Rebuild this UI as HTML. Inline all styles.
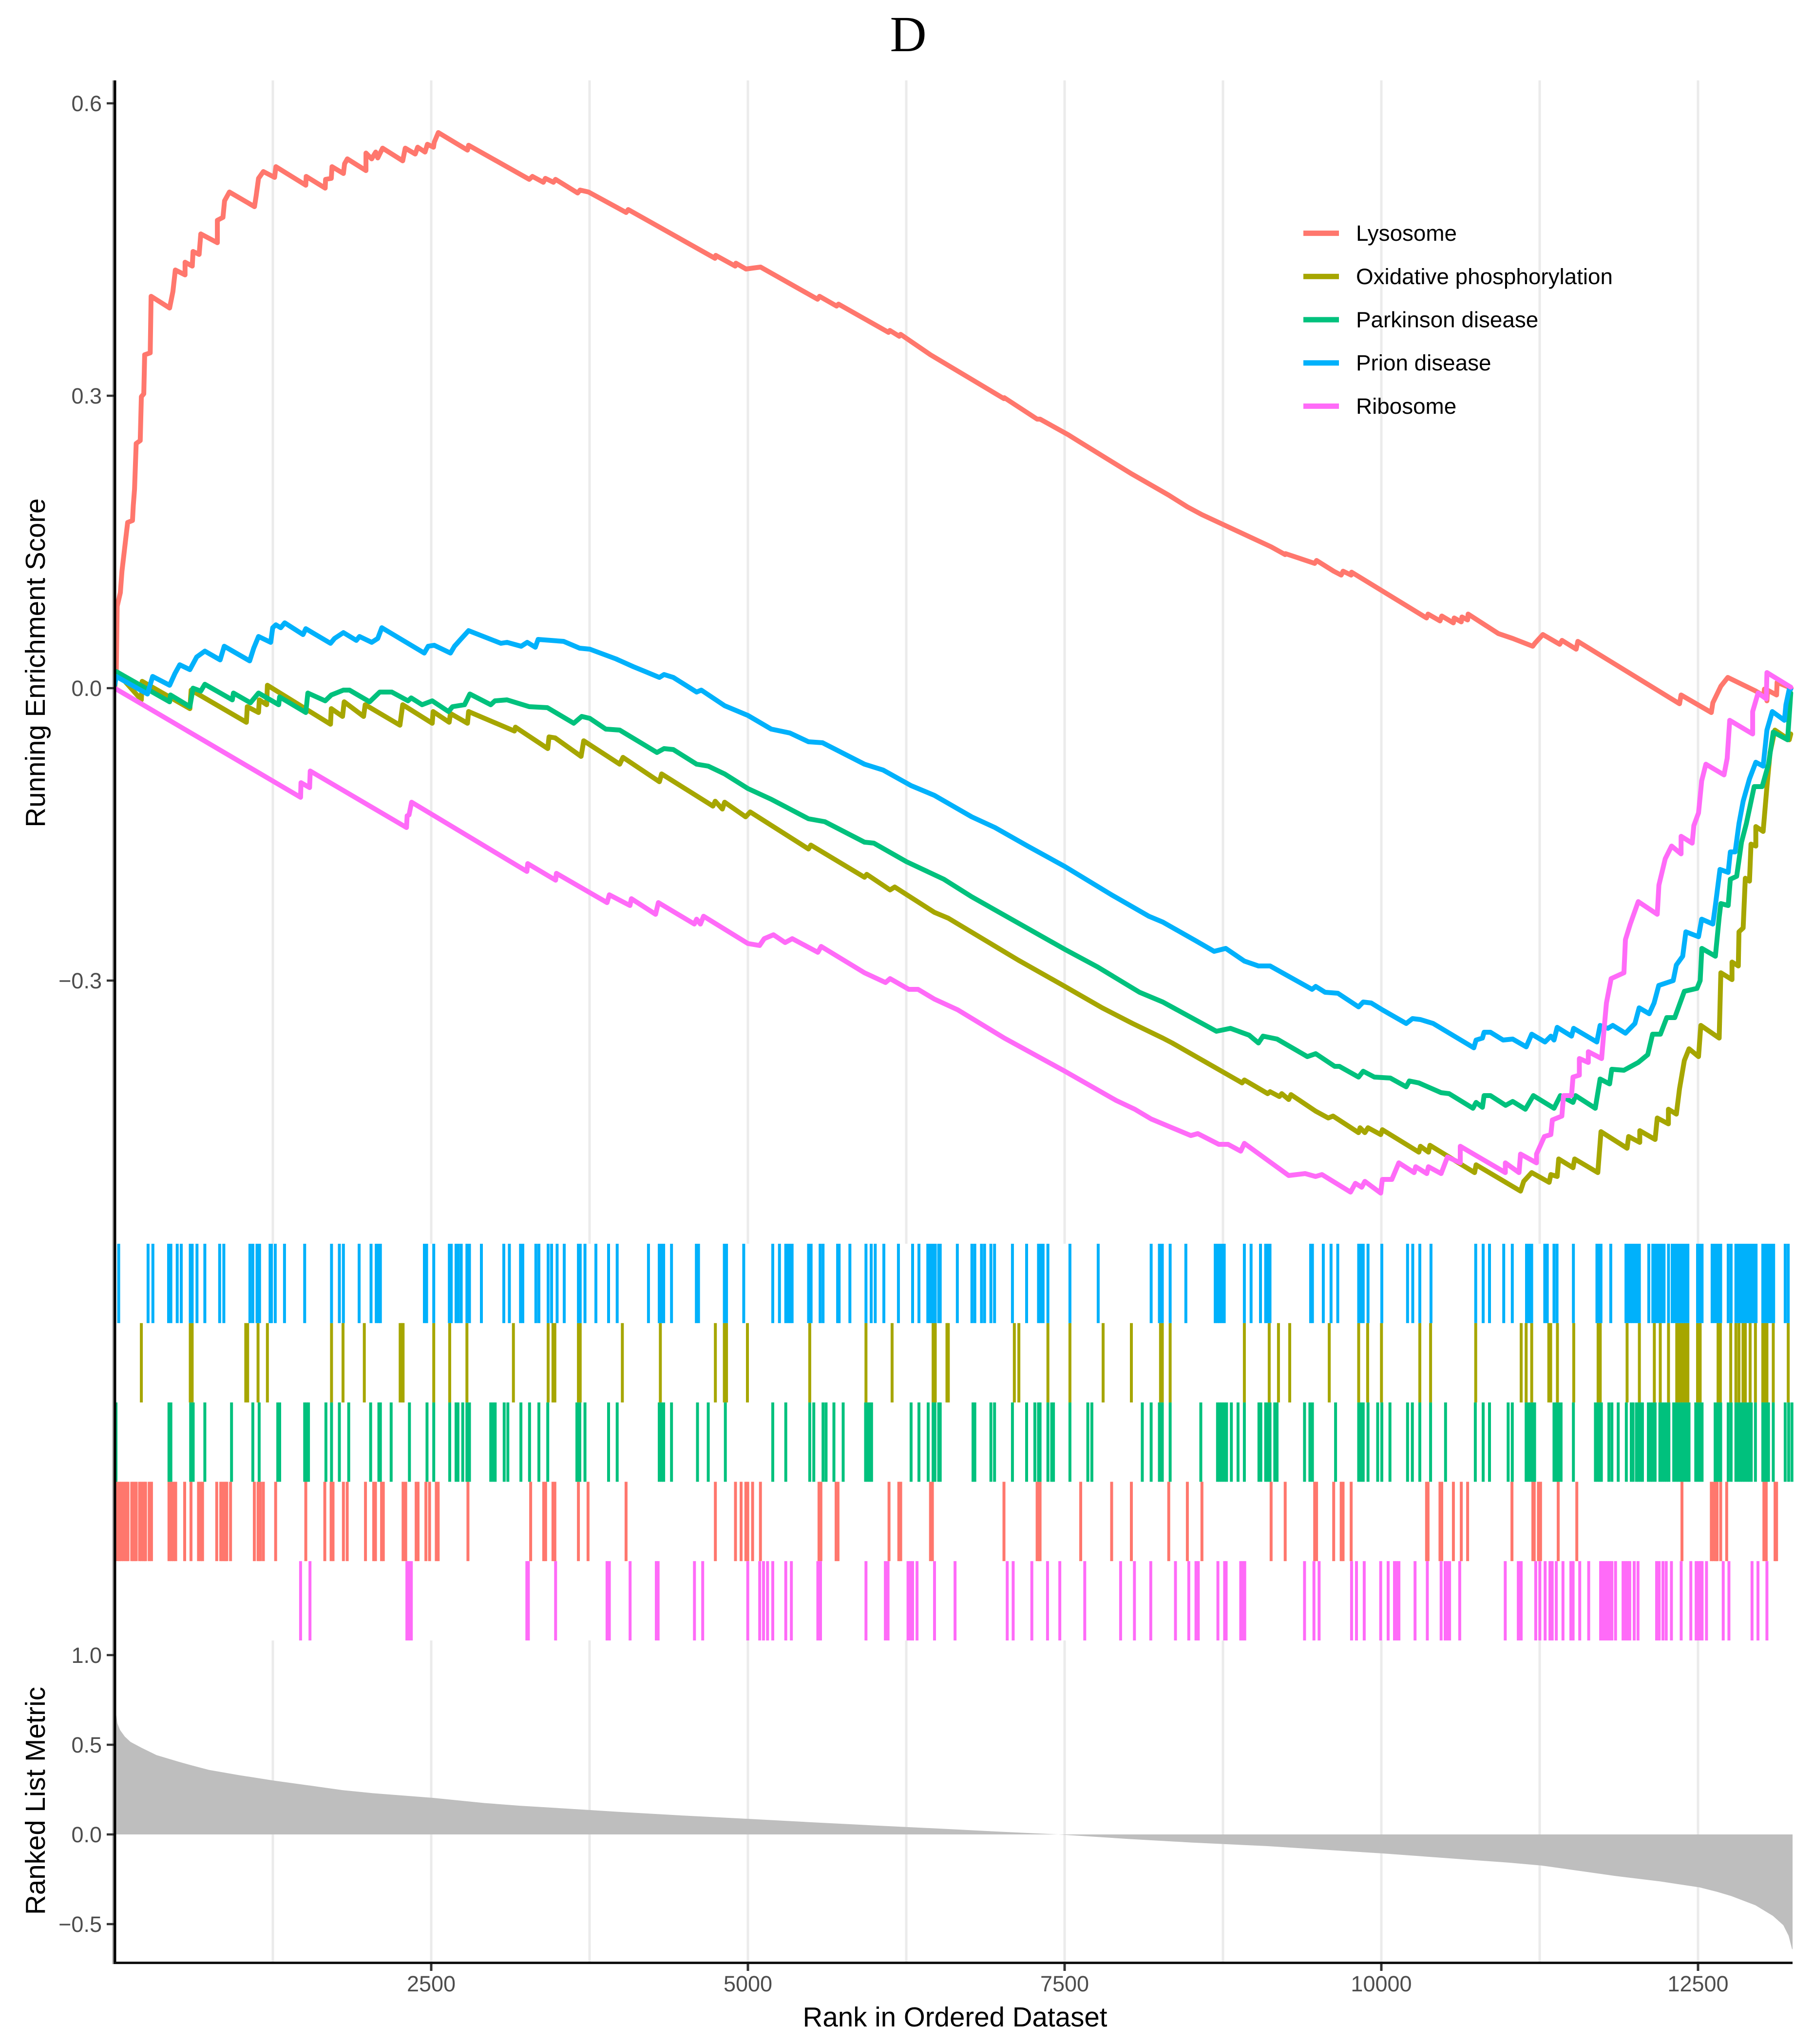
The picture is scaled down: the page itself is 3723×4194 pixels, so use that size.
<!DOCTYPE html>
<html lang="en">
<head>
<meta charset="utf-8">
<title>GSEA running enrichment score plot</title>
<style>
html,body{margin:0;padding:0;background:#fff;}
#chart{display:block;width:3723px;height:4194px;}
text{font-family:"Liberation Sans",sans-serif;}
</style>
</head>
<body>
<svg id="chart" xmlns="http://www.w3.org/2000/svg" width="3723" height="4194" viewBox="0 0 3723 4194">
<rect x="0" y="0" width="3723" height="4194" fill="#ffffff"/>
<g id="grid"></g>
<g id="metric"></g>
<g id="rug"></g>
<g id="curves"></g>
<g id="axes"></g>
<g id="legend"></g>
<text x="1864" y="105" text-anchor="middle" font-size="104" fill="#000" style="font-family:'Liberation Serif',serif">D</text>
<text transform="translate(92 1360) rotate(-90)" text-anchor="middle" font-size="56.5" fill="#000">Running Enrichment Score</text>
<text transform="translate(92 3695) rotate(-90)" text-anchor="middle" font-size="56.5" fill="#000">Ranked List Metric</text>
<text x="1960" y="4158" text-anchor="middle" font-size="56.5" fill="#000">Rank in Ordered Dataset</text>
</svg>
<script>
const xTicks = [2500, 5000, 7500, 10000, 12500];
const xGridBreaks = [1250, 2500, 3750, 5000, 6250, 7500, 8750, 10000, 11250, 12500];
const esTicks = [0.6, 0.3, 0, -0.3];
const esTickLabels = ["0.6", "0.3", "0.0", "\u22120.3"];
const metricTicks = [1, 0.5, 0, -0.5];
const metricTickLabels = ["1.0", "0.5", "0.0", "\u22120.5"];
const seriesNames = ["Lysosome", "Oxidative phosphorylation", "Parkinson disease", "Prion disease", "Ribosome"];
const seriesKeys = ["lysosome", "oxidative-phosphorylation", "parkinson-disease", "prion-disease", "ribosome"];
const seriesColors = ["#ff776d", "#a6a600", "#00c17d", "#00b1fb", "#ff6bf8"];
const rugRows = [3, 1, 2, 0, 4];

const lysosomeRanks = [1,14,21,46,59,91,104,142,148,158,171,203,212,231,238,282,289,435,461,480,557,557,614,620,668,681,812,812,856,869,907,1105,1118,1137,1175,1264,1274,1510,1513,1663,1666,1711,1717,1807,1816,1838,1985,1985,2030,2062,2078,2116,2275,2295,2374,2393,2451,2470,2518,2524,2556,2786,2795,3274,3299,3385,3401,3465,3481,3656,3675,3742,4039,4055,4740,4746,4900,4905,4985,5040,5100,5550,5565,5700,5715,6110,6120,6195,6205,6441,7021,7024,7283,7306,7528,7627,8027,8322,8469,8584,9130,9241,9244,9474,9489,9624,9683,9698,9762,9765,10357,10369,10463,10477,10569,10575,10631,10636,10681,10685,10924,11037,11195,11212,11275,11408,11426,11538,11551,12354,12366,12605,12617,12680,12735,12956,13019,13024,13044,13048,13120,13124,13235];
const lysosomeScores = [0,0.017,0.084,0.098,0.120,0.156,0.170,0.172,0.187,0.204,0.251,0.254,0.299,0.302,0.342,0.344,0.402,0.390,0.407,0.429,0.424,0.437,0.433,0.448,0.445,0.466,0.457,0.480,0.483,0.500,0.509,0.494,0.505,0.523,0.530,0.524,0.535,0.516,0.525,0.513,0.522,0.523,0.535,0.528,0.538,0.543,0.531,0.549,0.543,0.550,0.544,0.554,0.541,0.554,0.548,0.555,0.550,0.558,0.555,0.560,0.570,0.552,0.557,0.522,0.525,0.519,0.523,0.519,0.522,0.508,0.511,0.509,0.488,0.491,0.441,0.444,0.433,0.436,0.430,0.431,0.432,0.399,0.402,0.392,0.394,0.365,0.367,0.361,0.363,0.342,0.297,0.298,0.276,0.276,0.260,0.252,0.220,0.198,0.186,0.178,0.145,0.137,0.138,0.128,0.131,0.120,0.116,0.120,0.116,0.119,0.072,0.076,0.069,0.074,0.067,0.072,0.068,0.073,0.070,0.076,0.056,0.051,0.043,0.046,0.055,0.045,0.049,0.040,0.048,-0.016,-0.007,-0.025,-0.015,0.002,0.011,-0.003,-0.008,-0.001,-0.013,-0.002,-0.007,0.006,0];

const oxphosRanks = [1,14,212,218,595,605,1041,1048,1137,1143,1201,1207,1705,1711,1800,1813,1966,1979,2253,2275,2508,2515,2642,2652,2786,2795,3157,3165,3420,3430,3478,3683,3704,3988,4014,4301,4319,4724,4742,4798,4816,4982,5018,5478,5497,5920,5938,6122,6159,6472,6582,7134,7502,7797,8036,8275,8349,8901,8919,9103,9122,9195,9214,9269,9287,9482,9581,9619,9820,9832,9870,9895,9995,10008,10296,10309,10372,10384,10736,10748,11099,11124,11187,11325,11338,11388,11400,11513,11526,11709,11734,11940,11952,12040,12040,12161,12178,12266,12266,12329,12354,12392,12429,12504,12522,12667,12680,12768,12768,12818,12823,12856,12873,12906,12918,12956,12956,13014,13044,13069,13107,13220,13232];
const oxphosScores = [0,0.017,-0.012,0.007,-0.021,-0.002,-0.035,-0.019,-0.025,-0.012,-0.017,0.003,-0.037,-0.021,-0.029,-0.014,-0.029,-0.017,-0.038,-0.017,-0.036,-0.024,-0.035,-0.026,-0.036,-0.024,-0.044,-0.040,-0.062,-0.050,-0.051,-0.070,-0.054,-0.078,-0.071,-0.096,-0.088,-0.121,-0.116,-0.124,-0.117,-0.132,-0.127,-0.165,-0.161,-0.194,-0.191,-0.207,-0.204,-0.230,-0.236,-0.279,-0.306,-0.328,-0.344,-0.359,-0.364,-0.405,-0.402,-0.416,-0.414,-0.419,-0.416,-0.422,-0.417,-0.434,-0.441,-0.439,-0.456,-0.451,-0.456,-0.451,-0.458,-0.453,-0.476,-0.470,-0.476,-0.469,-0.497,-0.489,-0.516,-0.506,-0.497,-0.507,-0.499,-0.501,-0.483,-0.492,-0.483,-0.497,-0.455,-0.472,-0.460,-0.466,-0.454,-0.463,-0.441,-0.447,-0.432,-0.437,-0.411,-0.382,-0.370,-0.378,-0.346,-0.359,-0.292,-0.299,-0.281,-0.285,-0.250,-0.246,-0.195,-0.198,-0.160,-0.162,-0.142,-0.147,-0.101,-0.066,-0.043,-0.053,-0.047];

const parkinsonRanks = [1,14,435,442,595,620,681,713,930,939,1073,1137,1296,1303,1510,1526,1663,1711,1807,1855,2014,2094,2189,2317,2342,2428,2508,2636,2668,2763,2805,2970,3003,3098,3274,3417,3625,3688,3752,3878,3988,4282,4338,4411,4595,4687,4816,5000,5184,5331,5478,5607,5920,5994,6251,6546,6766,7502,7760,8091,8275,8698,8809,8956,9030,9066,9177,9416,9482,9632,9669,9820,9857,9945,10071,10196,10221,10296,10472,10535,10723,10748,10798,10811,10861,10981,11037,11137,11200,11363,11413,11513,11533,11689,11727,11802,11819,11915,12028,12103,12141,12203,12253,12316,12392,12492,12517,12530,12637,12667,12680,12738,12755,12805,12843,12881,12943,13006,13056,13094,13207,13232];
const parkinsonScores = [0.005,0.017,-0.014,-0.007,-0.019,0,-0.003,0.004,-0.012,-0.005,-0.015,-0.005,-0.017,-0.009,-0.025,-0.005,-0.013,-0.007,-0.002,-0.002,-0.014,-0.004,-0.004,-0.013,-0.010,-0.017,-0.013,-0.024,-0.019,-0.017,-0.006,-0.017,-0.013,-0.012,-0.019,-0.020,-0.036,-0.029,-0.031,-0.042,-0.043,-0.066,-0.062,-0.063,-0.078,-0.080,-0.088,-0.103,-0.114,-0.124,-0.134,-0.137,-0.158,-0.159,-0.178,-0.196,-0.214,-0.268,-0.286,-0.312,-0.322,-0.352,-0.349,-0.356,-0.364,-0.357,-0.360,-0.378,-0.375,-0.388,-0.388,-0.399,-0.393,-0.399,-0.400,-0.409,-0.403,-0.405,-0.415,-0.416,-0.431,-0.425,-0.430,-0.418,-0.418,-0.428,-0.424,-0.432,-0.418,-0.431,-0.418,-0.425,-0.418,-0.431,-0.401,-0.406,-0.391,-0.392,-0.384,-0.376,-0.355,-0.355,-0.338,-0.338,-0.311,-0.308,-0.300,-0.267,-0.275,-0.235,-0.221,-0.223,-0.196,-0.193,-0.158,-0.139,-0.101,-0.101,-0.078,-0.045,-0.053,-0.005];

const prionRanks = [1,14,260,301,435,477,515,595,649,713,834,866,1067,1099,1137,1233,1249,1274,1312,1344,1488,1510,1705,1737,1807,1909,1934,2030,2078,2110,2445,2476,2524,2652,2684,2732,2795,3050,3098,3210,3258,3322,3344,3545,3672,3752,3959,4096,4190,4301,4338,4411,4595,4632,4816,4963,5000,5184,5331,5478,5589,5920,6067,6288,6472,6766,6950,7208,7502,7870,8165,8275,8533,8680,8772,8919,9030,9122,9453,9482,9556,9657,9820,9857,9920,10008,10196,10246,10309,10409,10730,10748,10798,10811,10861,10961,11037,11144,11187,11292,11338,11363,11388,11501,11518,11701,11727,11789,11827,11927,12002,12035,12115,12153,12190,12304,12329,12379,12404,12504,12529,12617,12637,12673,12738,12755,12793,12823,12856,12906,12956,13014,13044,13086,13182,13194,13220,13232];
const prionScores = [0.003,0.012,-0.006,0.012,0.003,0.015,0.024,0.019,0.032,0.038,0.029,0.043,0.028,0.041,0.053,0.047,0.062,0.065,0.062,0.067,0.055,0.061,0.046,0.051,0.057,0.049,0.053,0.047,0.051,0.062,0.036,0.043,0.044,0.036,0.043,0.050,0.059,0.046,0.047,0.043,0.047,0.042,0.050,0.048,0.041,0.040,0.030,0.022,0.017,0.011,0.014,0.011,-0.004,-0.002,-0.018,-0.026,-0.028,-0.042,-0.046,-0.055,-0.056,-0.078,-0.084,-0.100,-0.110,-0.132,-0.143,-0.162,-0.183,-0.212,-0.234,-0.240,-0.259,-0.270,-0.267,-0.280,-0.285,-0.285,-0.309,-0.306,-0.312,-0.313,-0.327,-0.322,-0.323,-0.330,-0.344,-0.339,-0.340,-0.344,-0.369,-0.361,-0.359,-0.353,-0.353,-0.361,-0.360,-0.368,-0.355,-0.363,-0.357,-0.361,-0.348,-0.357,-0.349,-0.363,-0.346,-0.349,-0.346,-0.354,-0.344,-0.328,-0.334,-0.323,-0.305,-0.300,-0.284,-0.275,-0.250,-0.255,-0.237,-0.242,-0.223,-0.186,-0.189,-0.168,-0.168,-0.139,-0.116,-0.093,-0.076,-0.080,-0.043,-0.024,-0.033,-0.017,-0.001,-0.001];

const ribosomeRanks = [1,1469,1472,1540,1545,2305,2310,2325,2345,3255,3262,3482,3488,3888,3906,4069,4080,4271,4293,4577,4595,4625,4650,5000,5092,5129,5202,5294,5350,5552,5578,5920,6086,6122,6270,6343,6472,6656,7024,7502,7907,8054,8183,8367,8496,8551,8717,8790,8890,8919,9269,9398,9481,9531,9757,9795,9845,9870,9995,10008,10083,10138,10259,10271,10359,10372,10472,10522,10623,10623,10979,10979,11087,11099,11225,11225,11287,11338,11350,11425,11438,11501,11513,11563,11563,11634,11634,11739,11759,11777,11814,11915,11927,11965,12028,12178,12191,12241,12291,12366,12366,12454,12467,12504,12529,12562,12705,12730,12750,12931,12931,12974,13039,13044,13232];
const ribosomeScores = [0,-0.112,-0.097,-0.102,-0.085,-0.143,-0.131,-0.130,-0.117,-0.188,-0.180,-0.197,-0.190,-0.220,-0.212,-0.223,-0.216,-0.232,-0.220,-0.242,-0.237,-0.242,-0.234,-0.262,-0.264,-0.257,-0.253,-0.261,-0.257,-0.271,-0.265,-0.292,-0.302,-0.298,-0.309,-0.309,-0.319,-0.330,-0.359,-0.393,-0.423,-0.432,-0.442,-0.452,-0.459,-0.457,-0.468,-0.468,-0.475,-0.467,-0.500,-0.498,-0.501,-0.499,-0.517,-0.508,-0.512,-0.506,-0.518,-0.504,-0.504,-0.487,-0.497,-0.491,-0.498,-0.491,-0.498,-0.481,-0.487,-0.470,-0.497,-0.487,-0.497,-0.478,-0.487,-0.478,-0.460,-0.458,-0.443,-0.439,-0.418,-0.418,-0.399,-0.397,-0.380,-0.384,-0.373,-0.380,-0.349,-0.323,-0.298,-0.292,-0.258,-0.242,-0.219,-0.232,-0.202,-0.175,-0.162,-0.170,-0.152,-0.159,-0.141,-0.128,-0.095,-0.078,-0.089,-0.072,-0.033,-0.047,-0.024,-0.005,-0.011,0.016,0.001];

const prionHits = [33,265,303,427,445,495,527,598,613,651,713,830,863,1069,1092,1125,1145,1228,1239,1269,1342,1501,1713,1775,1807,1931,2025,2066,2084,2099,2446,2464,2520,2643,2658,2696,2714,2737,2782,2802,2896,3073,3117,3205,3223,3326,3350,3423,3450,3494,3550,3662,3676,3714,3800,3900,3968,4215,4300,4318,4335,4397,4593,4610,4814,4831,4967,5196,5249,5299,5317,5334,5349,5479,5499,5570,5593,5708,5720,5805,5932,5973,6005,6073,6188,6300,6350,6420,6435,6450,6465,6479,6506,6518,6653,6768,6791,6844,6868,6918,6947,7088,7200,7294,7312,7330,7368,7542,7765,8183,8248,8271,8333,8457,8689,8707,8724,8742,8760,8919,8972,9046,9087,9103,9121,9442,9456,9542,9603,9656,9821,9839,9857,9895,10004,10207,10248,10304,10392,10745,10804,10854,10966,11034,11146,11166,11187,11290,11310,11363,11387,11516,11702,11719,11734,11811,11931,11949,11967,11984,12002,12020,12037,12111,12143,12161,12178,12196,12214,12232,12267,12296,12314,12332,12349,12367,12385,12402,12420,12496,12514,12532,12611,12629,12647,12664,12679,12738,12761,12799,12817,12835,12853,12870,12888,12905,12923,12941,12958,13011,13029,13047,13064,13082,13097,13188,13212];
const oxphosHits = [212,598,613,1036,1051,1133,1207,1713,1804,1972,2255,2270,2278,2520,2646,2782,3149,3423,3461,3476,3662,3676,4009,4309,4743,4814,4831,4996,5488,5932,6138,6462,6479,6571,6582,7103,7139,7368,7542,7804,8027,8257,8271,8333,8919,9115,9188,9277,9589,9821,9892,10001,10304,10389,10745,11104,11143,11187,11322,11337,11390,11519,11711,11728,11940,12037,12155,12202,12267,12332,12349,12367,12385,12402,12420,12496,12517,12658,12676,12758,12799,12823,12855,12873,12911,12953,13011,13029,13044,13094,13212];
const parkinsonHits = [12,430,445,601,621,713,924,1092,1142,1289,1304,1501,1516,1531,1669,1713,1775,1849,2022,2087,2099,2184,2328,2467,2520,2646,2696,2711,2749,2782,2802,2970,2988,3005,3076,3105,3208,3276,3350,3420,3650,3673,3714,3900,3968,4300,4318,4335,4397,4602,4687,4822,5196,5299,5488,5520,5593,5617,5679,5752,5929,5947,5964,5976,6288,6350,6423,6462,6476,6506,6518,6777,6791,6918,6947,7088,7200,7265,7294,7306,7368,7398,7412,7542,7683,7715,8113,8183,8248,8271,8333,8575,8707,8724,8742,8760,8778,8816,8869,8919,9034,9049,9087,9103,9121,9159,9177,9394,9436,9456,9639,9821,9839,9857,9895,9971,10004,10068,10207,10245,10304,10389,10507,10742,10804,10854,11001,11034,11143,11160,11178,11196,11210,11363,11381,11399,11419,11516,11690,11708,11725,11737,11796,11820,11870,11934,11973,11987,12014,12031,12049,12061,12108,12126,12143,12161,12199,12217,12235,12252,12270,12308,12326,12343,12361,12379,12396,12414,12429,12482,12499,12517,12532,12635,12652,12670,12679,12738,12761,12799,12817,12835,12853,12870,12888,12905,12920,12953,13011,13029,13047,13056,13094,13188,13215,13241];
const lysosomeHits = [21,39,56,74,92,106,136,153,171,198,215,233,245,274,292,430,448,465,483,554,604,663,680,695,807,839,857,874,886,916,1104,1133,1151,1175,1272,1510,1660,1710,1725,1807,1837,1981,2046,2060,2108,2122,2278,2299,2381,2396,2458,2487,2540,2555,2790,3285,3388,3403,3461,3476,3662,3738,4038,4743,4902,4946,4984,4999,5037,5099,5561,5576,5696,5711,6114,6191,6206,6441,6456,7021,7283,7298,7306,7627,7871,8027,8322,8469,8584,9130,9241,9474,9489,9624,9683,9698,9762,10357,10369,10463,10477,10569,10631,10681,11031,11196,11207,11240,11257,11396,11543,12373,12605,12623,12641,12650,12679,12726,13020,13038,13108,13120];
const ribosomeHits = [1469,1543,2308,2325,2343,3255,3267,3482,3888,3906,4070,4277,4291,4578,4643,4999,5093,5123,5155,5196,5299,5343,5552,5573,5932,6085,6106,6264,6282,6300,6335,6473,6635,7047,7094,7241,7365,7462,7659,7942,8051,8180,8375,8480,8537,8555,8710,8763,8775,8890,8907,8922,9394,9468,9509,9765,9804,9865,9995,10054,10104,10121,10139,10266,10363,10472,10504,10522,10539,10619,10978,11081,11104,11219,11251,11293,11331,11349,11381,11434,11496,11514,11566,11637,11731,11749,11767,11784,11802,11820,11849,11908,11925,11943,11961,11996,12026,12173,12193,12223,12249,12290,12367,12443,12485,12503,12520,12532,12567,12699,12744,12926,12973,13044];

const metricRanks = [1,8,23,44,82,126,214,332,509,600,744,980,1250,1598,1800,2039,2498,2922,3200,3710,4000,4500,5000,5500,6000,6500,7000,7450,8000,8500,9096,10011,10804,11000,11261,11851,12200,12512,12650,12760,12953,13091,13173,13215,13242,13246];
const metricValues = [0.72,0.693,0.619,0.582,0.545,0.516,0.483,0.442,0.405,0.387,0.360,0.331,0.301,0.267,0.247,0.230,0.205,0.175,0.160,0.138,0.125,0.105,0.087,0.068,0.050,0.033,0.015,0,-0.025,-0.045,-0.065,-0.106,-0.147,-0.157,-0.173,-0.232,-0.262,-0.295,-0.320,-0.343,-0.395,-0.454,-0.506,-0.565,-0.639,-0.640];

const curveRanks = [lysosomeRanks, oxphosRanks, parkinsonRanks, prionRanks, ribosomeRanks];
const curveScores = [lysosomeScores, oxphosScores, parkinsonScores, prionScores, ribosomeScores];
const hitRanks = [lysosomeHits, oxphosHits, parkinsonHits, prionHits, ribosomeHits];

const SVG_NS = "http://www.w3.org/2000/svg";
const PLOT_RIGHT = 3679;
const xScale = r => 235 + 0.26 * r;
const yScore = v => 1412 - 2000 * v;
const yMetric = v => 3764 - 368 * v;
const rugTop = row => 2552 + row * 162.8;
const rugHeight = 162.8;

function make(tag, parentId, attrs) {
  const el = document.createElementNS(SVG_NS, tag);
  for (const k in attrs) el.setAttribute(k, attrs[k]);
  document.getElementById(parentId).appendChild(el);
  return el;
}

/* grid */
xGridBreaks.forEach(b => {
  const upper = make("line", "grid", {x1: xScale(b), x2: xScale(b), y1: 165, y2: 2552, stroke: "#ebebeb", "stroke-width": 5});
  
  
  const lower = make("line", "grid", {x1: xScale(b), x2: xScale(b), y1: 3366, y2: 4027, stroke: "#ebebeb", "stroke-width": 5});
  
  
});

/* ranked metric area */
let areaD = "M" + xScale(metricRanks[0]).toFixed(1) + " " + yMetric(0);
metricRanks.forEach((r, i) => { areaD += "L" + xScale(r).toFixed(1) + " " + yMetric(metricValues[i]).toFixed(1); });
areaD += "L" + xScale(metricRanks[metricRanks.length - 1]).toFixed(1) + " " + yMetric(0) + "Z";
const area = make("path", "metric", {d: areaD, fill: "#bebebe"});



/* rug */
hitRanks.forEach((hits, s) => {
  hits.forEach(r => {
    const tick = make("rect", "rug", {x: (xScale(r) - 3).toFixed(1), y: rugTop(rugRows[s]).toFixed(1), width: 6, height: rugHeight, fill: seriesColors[s]});
    
    
  });
});

/* curves */
curveRanks.forEach((ranks, s) => {
  const pts = ranks.map((r, i) => xScale(r).toFixed(1) + "," + yScore(curveScores[s][i]).toFixed(1)).join(" ");
  const line = make("polyline", "curves", {points: pts, fill: "none", stroke: seriesColors[s], "stroke-width": 10, "stroke-linejoin": "round", "stroke-linecap": "round"});
  
  
});

/* axes */
const grey = make("rect", "axes", {x: 230, y: 165, width: 3, height: 3865, fill: "#bbbbbb"});


const yAxis = make("rect", "axes", {x: 233, y: 165, width: 5.5, height: 3865, fill: "#000"});


const xAxis = make("rect", "axes", {x: 233, y: 4025, width: PLOT_RIGHT - 233, height: 5, fill: "#111"});



xTicks.forEach(t => {
  const tick = make("line", "axes", {x1: xScale(t), x2: xScale(t), y1: 4030, y2: 4044, stroke: "#333", "stroke-width": 5});
  
  
  const lab = make("text", "axes", {x: xScale(t), y: 4086, "text-anchor": "middle", "font-size": 45, fill: "#4d4d4d"});
  lab.textContent = String(t);
  
  
});
esTicks.forEach((t, i) => {
  const tick = make("line", "axes", {x1: 219, x2: 233, y1: yScore(t), y2: yScore(t), stroke: "#333", "stroke-width": 4.5});
  
  
  const lab = make("text", "axes", {x: 209, y: yScore(t) + 16, "text-anchor": "end", "font-size": 45, fill: "#4d4d4d"});
  lab.textContent = esTickLabels[i];
  
  
});
metricTicks.forEach((t, i) => {
  const tick = make("line", "axes", {x1: 219, x2: 233, y1: yMetric(t), y2: yMetric(t), stroke: "#333", "stroke-width": 4.5});
  
  
  const lab = make("text", "axes", {x: 209, y: yMetric(t) + 16, "text-anchor": "end", "font-size": 45, fill: "#4d4d4d"});
  lab.textContent = metricTickLabels[i];
  
  
});

/* legend */
seriesNames.forEach((name, i) => {
  const cy = 478.6 + i * 88.7;
  const key = make("rect", "legend", {x: 2675, y: cy - 5.5, width: 73, height: 11, fill: seriesColors[i]});
  
  
  const lab = make("text", "legend", {x: 2783, y: cy + 15.5, "font-size": 45.8, fill: "#000"});
  lab.textContent = name;
  
  
});
</script>
</body>
</html>
